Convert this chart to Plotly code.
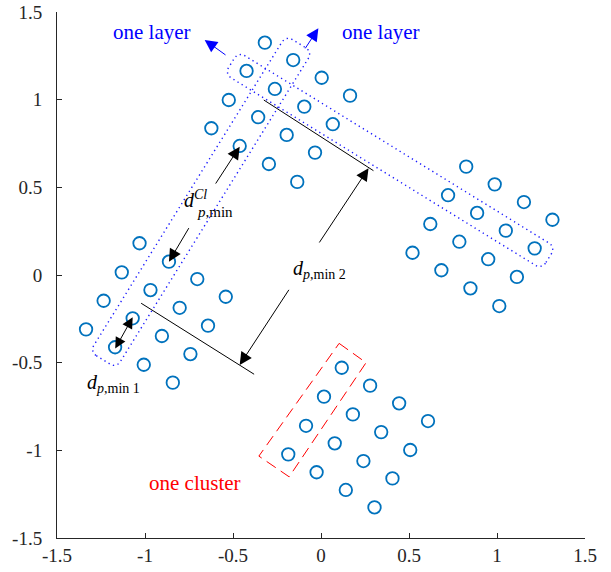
import numpy as np
import plotly.graph_objects as go

# ---------------- data ----------------
upper_x = [-0.319, -0.158, -0.423, 0.004, 0.165, -0.262, -0.524, -0.095,
           -0.357, 0.067, -0.623, -0.195, -0.462, -0.034, -0.296, -0.135]
upper_y = [1.325, 1.226, 1.164, 1.125, 1.023, 1.061, 0.998, 0.960,
           0.900, 0.860, 0.837, 0.799, 0.736, 0.698, 0.633, 0.531]

right_x = [0.825, 0.987, 1.153, 1.315, 0.722, 0.887, 1.050, 1.214,
           0.621, 0.786, 0.950, 1.113, 0.520, 0.684, 0.849, 1.013]
right_y = [0.618, 0.517, 0.416, 0.315, 0.455, 0.354, 0.253, 0.152,
           0.291, 0.190, 0.090, -0.011, 0.127, 0.027, -0.076, -0.177]

left_x = [-1.031, -0.864, -0.703, -0.541, -1.132, -0.969, -0.803, -0.642,
          -1.235, -1.070, -0.904, -0.742, -1.335, -1.170, -1.007, -0.842]
left_y = [0.181, 0.076, -0.023, -0.124, 0.015, -0.086, -0.187, -0.289,
          -0.147, -0.247, -0.348, -0.451, -0.310, -0.412, -0.512, -0.614]

bottom_x = [0.118, 0.279, 0.444, 0.608, 0.017, 0.181, 0.342, 0.507,
            -0.085, 0.078, 0.241, 0.406, -0.186, -0.025, 0.141, 0.304]
bottom_y = [-0.529, -0.631, -0.732, -0.833, -0.694, -0.795, -0.896, -0.998,
            -0.860, -0.960, -1.061, -1.160, -1.023, -1.125, -1.226, -1.325]

tick_vals = [-1.5, -1, -0.5, 0, 0.5, 1, 1.5]
tick_text = ["-1.5", "-1", "-0.5", "0", "0.5", "1", "1.5"]

# ---------------- annotation geometry (data units) ----------------
PX = 1 / 175.4  # one screen pixel in data units

layer_a = dict(p1=(-0.423, 1.164), p2=(1.214, 0.152), hw=13 * PX, off=1 * PX, ext=17 * PX)
layer_b = dict(p1=(-0.158, 1.226), p2=(-1.170, -0.412), hw=15.5 * PX, off=3.5 * PX, ext=17 * PX)
corner_r = 7 * PX

cluster_box_x = [0.103, 0.256, -0.181, -0.353, 0.103]
cluster_box_y = [-0.390, -0.500, -1.151, -1.033, -0.390]

line1 = ((-1.022, -0.161), (-0.380, -0.566))
line2 = ((-0.325, 0.998), (0.298, 0.595))


def rounded_rect(p1, p2, hw, off, ext, r):
    p1 = np.array(p1, float)
    p2 = np.array(p2, float)
    d = p2 - p1
    L = np.linalg.norm(d)
    u = d / L
    n = np.array([u[1], -u[0]])
    s0, s1 = -ext, L + ext
    t0, t1 = -hw + off, hw + off
    pts = []
    corners = [((s1 - r, t1 - r), 0), ((s0 + r, t1 - r), 90),
               ((s0 + r, t0 + r), 180), ((s1 - r, t0 + r), 270)]
    for (cs, ct), a0 in corners:
        for a in np.linspace(np.radians(a0), np.radians(a0 + 90), 8):
            pts.append((cs + r * np.cos(a), ct + r * np.sin(a)))
    pts.append(pts[0])
    xs = [p1[0] + s * u[0] + t * n[0] for s, t in pts]
    ys = [p1[1] + s * u[1] + t * n[1] for s, t in pts]
    return xs, ys


blue_pt = "#0072BD"
fig = go.Figure()

for xs, ys in [(upper_x, upper_y), (right_x, right_y), (left_x, left_y), (bottom_x, bottom_y)]:
    fig.add_trace(go.Scatter(
        x=xs, y=ys, mode="markers",
        marker=dict(symbol="circle-open", size=12.5, color=blue_pt, line=dict(width=1.8, color=blue_pt)),
        hoverinfo="skip", showlegend=False))

for rect in (layer_a, layer_b):
    rx, ry = rounded_rect(rect["p1"], rect["p2"], rect["hw"], rect["off"], rect["ext"], corner_r)
    fig.add_trace(go.Scatter(x=rx, y=ry, mode="lines",
                             line=dict(color="#1a1aff", width=1.4, dash="1.3px,3.5px"),
                             hoverinfo="skip", showlegend=False))

fig.add_trace(go.Scatter(x=cluster_box_x, y=cluster_box_y, mode="lines",
                         line=dict(color="#FF0000", width=1, dash="11px,6px"),
                         hoverinfo="skip", showlegend=False))

for (a, b) in (line1, line2):
    fig.add_shape(type="line", x0=a[0], y0=a[1], x1=b[0], y1=b[1],
                  xref="x", yref="y", line=dict(color="black", width=1))

serif = "Liberation Serif"


def arrow(head, tail, color="black", side="end", size=2.5):
    fig.add_annotation(x=head[0], y=head[1], ax=tail[0], ay=tail[1],
                       xref="x", yref="y", axref="x", ayref="y",
                       text="", showarrow=True, arrowhead=2, arrowsize=size,
                       arrowwidth=1, arrowcolor=color, arrowside=side,
                       standoff=0, startstandoff=0)


arrow((0.270, 0.609), (-0.015, 0.177))
arrow((-0.462, -0.513), (-0.177, -0.076))
arrow((-0.462, 0.732), (-0.604, 0.513))
arrow((-0.864, 0.076), (-0.746, 0.276))
arrow((-1.070, -0.241), (-1.174, -0.428), side="end+start", size=2.2)
arrow((-0.661, 1.341), (-0.534, 1.249), color="blue")
arrow((-0.015, 1.407), (-0.095, 1.284), color="blue")


def label(x, y, text, color="black", size=20, xanchor="center"):
    fig.add_annotation(x=x, y=y, xref="x", yref="y", text=text, showarrow=False,
                       xanchor=xanchor, yanchor="middle",
                       font=dict(family=serif, size=size, color=color))


label(-0.963, 1.386, "one layer", color="blue", size=21)
label(0.342, 1.386, "one layer", color="blue", size=21)
label(-0.718, -1.187, "one cluster", color="red", size=21)
label(-0.006, 0.029, "<i>d</i><sub><i>p</i>,min 2</sub>")
label(-1.179, -0.620, "<i>d</i><sub><i>p</i>,min 1</sub>")
label(-0.790, 0.432, "<i>d</i><sup><i>Cl</i></sup>", xanchor="left")
label(-0.718, 0.362, "<i>p</i>,min", size=15, xanchor="left")

axis_common = dict(range=[-1.5, 1.5], tickvals=tick_vals, ticktext=tick_text,
                   showgrid=False, zeroline=False, showline=True, linecolor="#262626",
                   linewidth=1, ticks="inside", ticklen=5, tickcolor="#262626",
                   tickfont=dict(family=serif, size=19, color="#262626"), mirror=False,
                   automargin=False, ticklabeloverflow="allow")

fig.update_layout(
    width=611, height=572,
    margin=dict(l=57, r=26, t=12, b=34),
    plot_bgcolor="white", paper_bgcolor="white",
    showlegend=False,
    xaxis=dict(**axis_common, ticklabelstandoff=0),
    yaxis=dict(**axis_common, ticklabelstandoff=10),
)

fig.write_html("out.html",
               config={"displayModeBar": False},
               post_script="document.body.style.margin='0';document.body.style.overflow='hidden';")
